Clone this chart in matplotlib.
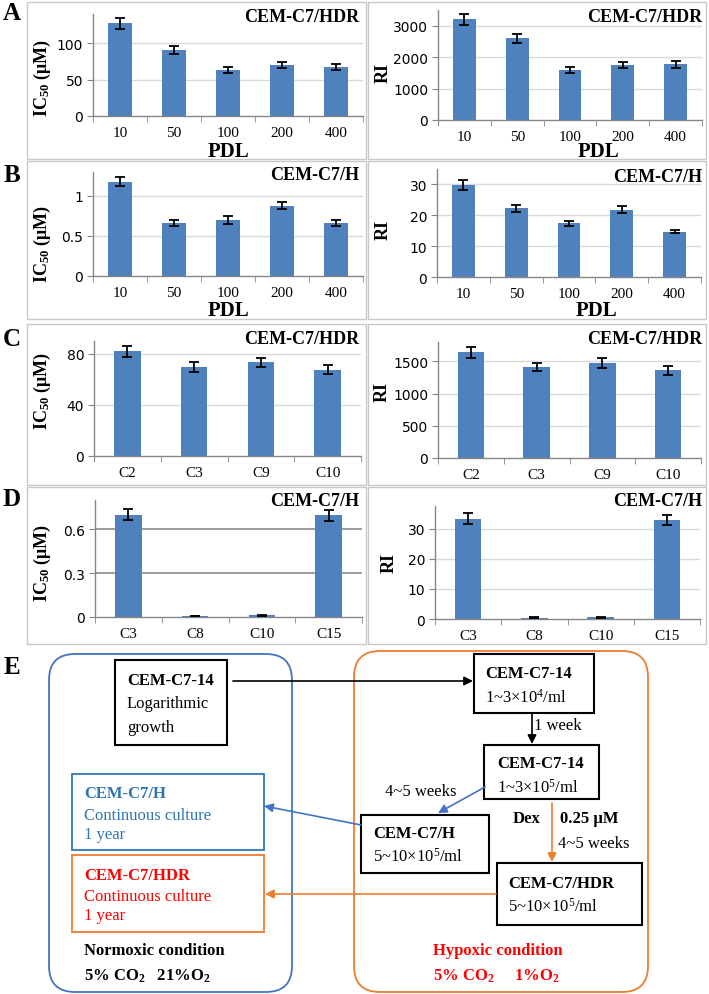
"""Multi-panel figure: IC50 / RI bar charts (A-D) and culture flowchart (E)."""

import matplotlib

matplotlib.use("Agg")

import matplotlib.pyplot as plt
from matplotlib.patches import FancyBboxPatch, Rectangle

plt.rcParams["font.family"] = ["Liberation Serif", "DejaVu Serif"]
plt.rcParams["mathtext.fontset"] = "custom"
plt.rcParams["mathtext.rm"] = "Liberation Serif"
plt.rcParams["mathtext.bf"] = "Liberation Serif:bold"
plt.rcParams["mathtext.default"] = "regular"

# ---- data ---------------------------------------------------------------
pdl = ["10", "50", "100", "200", "400"]
a_ic50 = [127, 90, 63, 70, 67.5]
a_ic50_err = [7, 5.5, 4, 4.5, 4]
a_ri = [3200, 2600, 1600, 1750, 1770]
a_ri_err = [170, 150, 90, 100, 100]

b_ic50 = [1.18, 0.66, 0.70, 0.88, 0.66]
b_ic50_err = [0.06, 0.035, 0.045, 0.045, 0.035]
b_ri = [29.8, 22.2, 17.4, 21.8, 14.7]
b_ri_err = [1.5, 1.2, 0.9, 1.2, 0.6]

c_clones = ["C2", "C3", "C9", "C10"]
c_ic50 = [81.8, 69.8, 73.2, 67.6]
c_ic50_err = [4.2, 3.7, 3.8, 3.6]
c_ri = [1640, 1410, 1470, 1360]
c_ri_err = [88, 65, 78, 68]

d_clones = ["C3", "C8", "C10", "C15"]
d_ic50 = [0.70, 0.007, 0.012, 0.696]
d_ic50_err = [0.038, 0.002, 0.003, 0.037]
d_ri = [33.3, 0.4, 0.6, 32.8]
d_ri_err = [1.9, 0.15, 0.2, 1.7]

W, H = 709, 995
BAR = "#4F81BD"
AXIS = "#868686"
GRID = "#D9D9D9"
BLUE = "#4472C4"
BLUE_TXT = "#2E75B6"
ORANGE = "#ED7D31"
RED = "#FF0000"

fig = plt.figure(figsize=(W / 100, H / 100), dpi=100)

# background axes in pixel coordinates for frames, labels and the flowchart
bg = fig.add_axes([0, 0, 1, 1])
bg.set_xlim(0, W)
bg.set_ylim(H, 0)
bg.axis("off")


def txt(x, y, s, **kw):
    kw.setdefault("va", "center")
    kw.setdefault("ha", "left")
    kw.setdefault("fontsize", 12)
    return bg.text(x, y, s, **kw)


def bar_panel(x0, x1, ytop, y0, cats, vals, errs, ymax, yticks, width,
              grid=GRID, grid_lw=1.0):
    ax = fig.add_axes([x0 / W, 1 - y0 / H, (x1 - x0) / W, (y0 - ytop) / H])
    ax.set_facecolor("none")
    n = len(cats)
    xs = list(range(n))
    ax.bar(xs, vals, width=width, color=BAR, zorder=2)
    ax.errorbar(xs, vals, yerr=errs, fmt="none", ecolor="black",
                elinewidth=1.3, capsize=3.5, capthick=1.3, zorder=3)
    ax.set_xlim(-0.5, n - 0.5)
    ax.set_ylim(0, ymax)
    ax.set_yticks(yticks)
    ax.set_yticklabels([f"{v:g}" for v in yticks], fontfamily="DejaVu Sans",
                       fontsize=10)
    ax.set_xticks(xs)
    ax.set_xticklabels(cats, fontsize=11)
    ax.set_xticks([i - 0.5 for i in range(n + 1)], minor=True)
    ax.tick_params(axis="x", which="major", length=0, pad=7.5)
    ax.tick_params(axis="x", which="minor", length=4, color=AXIS,
                   direction="out")
    ax.tick_params(axis="y", length=4, color=AXIS, pad=3)
    for v in yticks:
        if v > 0:
            ax.axhline(v, color=grid, lw=grid_lw, zorder=1)
    for s in ("top", "right"):
        ax.spines[s].set_visible(False)
    for s in ("left", "bottom"):
        ax.spines[s].set_color(AXIS)
        ax.spines[s].set_linewidth(1.0)
    return ax


# panel frames
rows = [(3, 160), (162, 320), (325, 486), (488, 645)]
for top, bot in rows:
    for l, r in ((27, 366), (368, 706)):
        bg.add_patch(Rectangle((l, top), r - l, bot - top, fill=False,
                               ec="#C8C8C8", lw=1.0))

# A
bar_panel(93, 363, 15, 117, pdl, a_ic50, a_ic50_err, 140, [0, 50, 100], 0.43)
bar_panel(438, 702, 11, 121, pdl, a_ri, a_ri_err, 3500,
          [0, 1000, 2000, 3000], 0.43)
# B
bar_panel(93, 363, 173, 277, pdl, b_ic50, b_ic50_err, 1.3, [0, 0.5, 1], 0.43)
bar_panel(437, 701, 170, 278, pdl, b_ri, b_ri_err, 35, [0, 10, 20, 30], 0.43)
# C
bar_panel(94, 361, 342, 457, c_clones, c_ic50, c_ic50_err, 90, [0, 40, 80],
          0.4)
bar_panel(438, 701, 343, 459, c_clones, c_ri, c_ri_err, 1800,
          [0, 500, 1000, 1500], 0.4)
# D
bar_panel(95, 362, 501, 618, d_clones, d_ic50, d_ic50_err, 0.8,
          [0, 0.3, 0.6], 0.4, grid="#8C8C8C", grid_lw=1.2)
bar_panel(435, 700, 507, 620, d_clones, d_ri, d_ri_err, 37.5,
          [0, 10, 20, 30], 0.4)

# panel letters
for letter, y in (("A", 14), ("B", 176), ("C", 340), ("D", 500), ("E", 668)):
    txt(12, y, letter, ha="center", fontsize=18, fontweight="bold")

# titles
for x, y, s in ((359, 17, "CEM-C7/HDR"), (702, 18, "CEM-C7/HDR"),
                (359, 175, "CEM-C7/H"), (702, 177, "CEM-C7/H"),
                (359, 340, "CEM-C7/HDR"), (702, 340, "CEM-C7/HDR"),
                (359, 502, "CEM-C7/H"), (702, 502, "CEM-C7/H")):
    txt(x, y, s, ha="right", fontsize=13, fontweight="bold")

# x labels
for x, y in ((228, 152), (598, 152), (228, 311), (596, 311)):
    txt(x, y, "PDL", ha="center", fontsize=15, fontweight="bold")

# y labels
for y in (78, 244, 391, 563):
    txt(42, y, "IC$_{50}$ (μM)", ha="center", rotation=90, fontsize=13,
        fontweight="bold")
for x, y in ((383, 73), (383, 230), (382, 392), (389, 563)):
    txt(x, y, "RI", ha="center", rotation=90, fontsize=13,
        fontweight="bold")

# ---- panel E flowchart ---------------------------------------------------
bg.add_patch(FancyBboxPatch((49, 655), 243, 338, ec=BLUE, fc="none", lw=1.3,
                            boxstyle="round,pad=0,rounding_size=26"))
bg.add_patch(FancyBboxPatch((354, 652), 294, 341, ec=ORANGE, fc="none",
                            lw=1.3, boxstyle="round,pad=0,rounding_size=26"))


def box(x0, x1, y0, y1, ec="black", lw=1.5):
    bg.add_patch(Rectangle((x0, y0), x1 - x0, y1 - y0, fill=False, ec=ec,
                           lw=lw))


def arrow(p0, p1, color="black"):
    bg.annotate("", xy=p1, xytext=p0,
                arrowprops=dict(arrowstyle="-|>", color=color, lw=1.2,
                                shrinkA=0, shrinkB=0, mutation_scale=13))


box(115, 227, 661, 746)
txt(127, 681, "CEM-C7-14", fontweight="bold")
txt(127, 704, "Logarithmic")
txt(127, 728, "growth")

box(474, 594, 655, 714)
txt(485, 674, "CEM-C7-14", fontweight="bold")
txt(485, 698, "1~3×10$^{4}$/ml")

box(484, 599, 746, 800)
txt(497, 764, "CEM-C7-14", fontweight="bold")
txt(497, 788, "1~3×10$^{5}$/ml")

box(361, 489, 816, 874)
txt(373, 834, "CEM-C7/H", fontweight="bold")
txt(373, 857, "5~10×10$^{5}$/ml")

box(497, 642, 864, 926)
txt(508, 884, "CEM-C7/HDR", fontweight="bold")
txt(508, 907, "5~10×10$^{5}$/ml")

box(72, 264, 775, 851, ec=BLUE_TXT, lw=1.3)
txt(84, 794, "CEM-C7/H", color=BLUE_TXT, fontweight="bold")
txt(84, 816, "Continuous culture", color=BLUE_TXT)
txt(84, 835, "1 year", color=BLUE_TXT)

box(72, 264, 856, 933, ec=ORANGE, lw=1.3)
txt(84, 876, "CEM-C7/HDR", color=RED, fontweight="bold")
txt(84, 897, "Continuous culture", color=RED)
txt(84, 916, "1 year", color=RED)

arrow((233, 682), (473, 682))
arrow((532, 714), (532, 745))
txt(534, 726, "1 week")
arrow((485, 788), (438, 814), color=BLUE)
txt(385, 792, "4~5 weeks")
arrow((552, 804), (552, 863), color=ORANGE)
txt(513, 819, "Dex", fontweight="bold")
txt(560, 819, "0.25 μM", fontweight="bold")
txt(558, 844, "4~5 weeks")
arrow((361, 826), (264, 807), color=BLUE)
arrow((496, 895), (265, 895), color=ORANGE)

txt(84, 951, "Normoxic condition", fontweight="bold")
txt(84, 976, "5% CO$_{2}$   21%O$_{2}$", fontweight="bold")
txt(433, 951, "Hypoxic condition", fontweight="bold", color=RED)
txt(433, 976, "5% CO$_{2}$     1%O$_{2}$", fontweight="bold", color=RED)

fig.savefig("out.png", dpi=100)
